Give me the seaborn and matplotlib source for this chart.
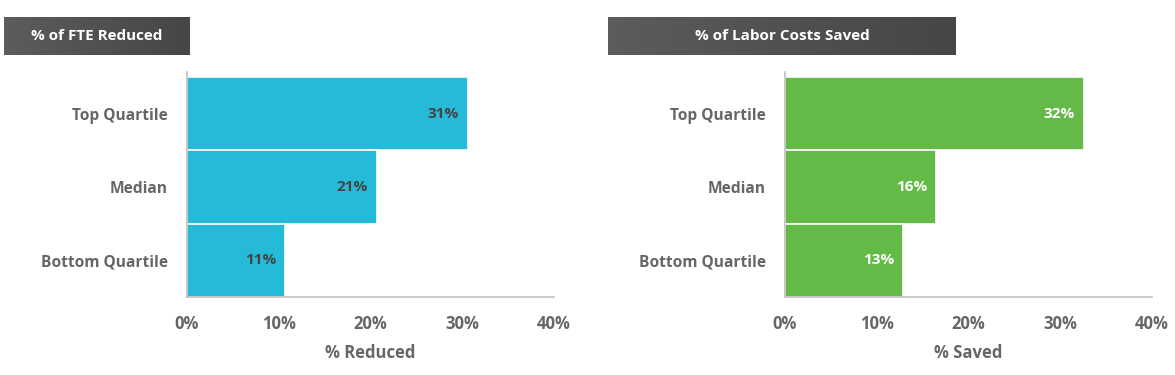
import matplotlib.pyplot as plt
import numpy as np
import pandas as pd
import seaborn as sns

categories = ["Top Quartile", "Median", "Bottom Quartile"]
fte_reduced = [30.6, 20.7, 10.7]
fte_labels = ["31%", "21%", "11%"]
labor_saved = [32.6, 16.5, 12.9]
labor_labels = ["32%", "16%", "13%"]
x_ticks = [0, 10, 20, 30, 40]
x_tick_labels = ["0%", "10%", "20%", "30%", "40%"]

sns.set_theme(style="white")
plt.rcParams["font.family"] = ["Open Sans", "DejaVu Sans"]
plt.rcParams["font.weight"] = "bold"

fig = plt.figure(figsize=(11.75, 3.75), dpi=100)

W, H = 1175, 375


def px_axes(x0, y0, x1, y1):
    return fig.add_axes([x0 / W, 1 - y1 / H, (x1 - x0) / W, (y1 - y0) / H])


def title_box(x0, y0, x1, y1, text):
    ax = px_axes(x0, y0, x1, y1)
    grad = np.linspace(0, 1, 256).reshape(1, -1)
    cmap = sns.blend_palette(["#5c5c5e", "#464648"], as_cmap=True)
    ax.imshow(grad, aspect="auto", cmap=cmap, extent=[0, 1, 0, 1])
    ax.text(0.5, 0.5, text, color="white", fontsize=11, fontweight="bold",
            ha="center", va="center", transform=ax.transAxes)
    ax.set_axis_off()


def bar_panel(x0, values, labels, color, label_color, xlabel):
    ax = px_axes(x0, 72, x0 + 367, 297)
    df = pd.DataFrame({"cat": categories, "val": values})
    sns.barplot(data=df, y="cat", x="val", orient="h", color=color, width=1.0,
                edgecolor="white", linewidth=1.2, saturation=1, ax=ax)
    for i, (v, lab) in enumerate(zip(values, labels)):
        ax.text(v - 1.0, i, lab, ha="right", va="center", fontsize=11,
                fontweight="bold", color=label_color)
    ax.set_xlim(0, 40)
    ax.set_ylim(2.5, -0.57)
    ax.set_xticks(x_ticks)
    ax.set_xticklabels(x_tick_labels)
    ax.set_ylabel("")
    ax.set_xlabel(xlabel, fontsize=12, fontweight="bold", color="#666666", labelpad=8)
    ax.tick_params(axis="x", length=0, pad=13, labelsize=12, labelcolor="#666666")
    ax.tick_params(axis="y", length=0, pad=14, labelsize=11.2, labelcolor="#666666")
    for t in ax.get_xticklabels() + ax.get_yticklabels():
        t.set_fontweight("bold")
    sns.despine(ax=ax)
    for s in ["left", "bottom"]:
        ax.spines[s].set_color("#c0c0c0")
        ax.spines[s].set_linewidth(1.2)
    return ax


title_box(4, 17, 190, 55, "% of FTE Reduced")
title_box(608, 17, 956, 55, "% of Labor Costs Saved")

bar_panel(187, fte_reduced, fte_labels, "#25bad7", "#444444", "% Reduced")
bar_panel(785, labor_saved, labor_labels, "#63ba46", "white", "% Saved")

fig.savefig("out.png", dpi=100)
